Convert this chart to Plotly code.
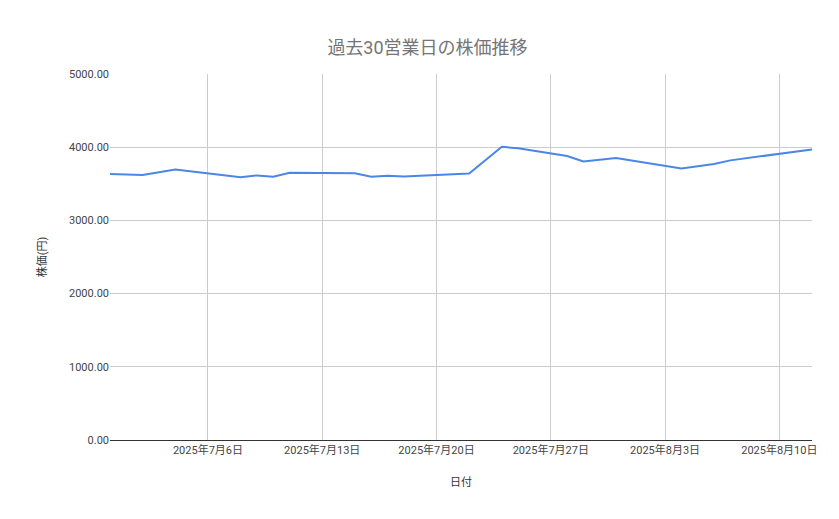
import plotly.graph_objects as go

dates = ["2025-06-30", "2025-07-02", "2025-07-04", "2025-07-08", "2025-07-09", "2025-07-10",
         "2025-07-11", "2025-07-15", "2025-07-16", "2025-07-17", "2025-07-18", "2025-07-22",
         "2025-07-24", "2025-07-25", "2025-07-28", "2025-07-29", "2025-07-31", "2025-08-04",
         "2025-08-06", "2025-08-07", "2025-08-12"]
prices = [3635, 3620, 3695, 3588, 3615, 3597, 3650, 3645, 3598, 3610, 3600, 3640,
          4005, 3985, 3880, 3805, 3853, 3710, 3770, 3820, 3970]

fig = go.Figure(go.Scatter(x=dates, y=prices, mode="lines",
                           line=dict(color="#4a86e8", width=2), name="株価"))

fig.update_layout(
    width=839, height=519,
    paper_bgcolor="white", plot_bgcolor="white",
    font=dict(family="Roboto, Noto Sans CJK JP", color="#444", size=11),
    title=dict(text="過去30営業日の株価推移", x=0.5, y=0.935, xanchor="center",
               font=dict(size=18, color="#757575")),
    margin=dict(l=102, r=35, t=66, b=87),
    showlegend=False,
)
fig.update_xaxes(
    range=["2025-06-30", "2025-08-12"],
    tickvals=["2025-07-06", "2025-07-13", "2025-07-20", "2025-07-27", "2025-08-03", "2025-08-10"],
    tickformat="%Y年%-m月%-d日",
    showgrid=True, gridcolor="#cccccc",
    showline=True, linecolor="#333", linewidth=1,
    title=dict(text="日付", font=dict(size=11, color="#333"), standoff=22),
    ticks="", tickfont=dict(size=11, color="#444"),
)
fig.update_yaxes(
    range=[0, 5000], dtick=1000, tickformat=".2f",
    showgrid=True, gridcolor="#cccccc", zeroline=False,
    title=dict(text="株価(円)", font=dict(size=11, color="#333"), standoff=20),
    tickfont=dict(size=11, color="#444"),
)

fig.write_html("out.html")
